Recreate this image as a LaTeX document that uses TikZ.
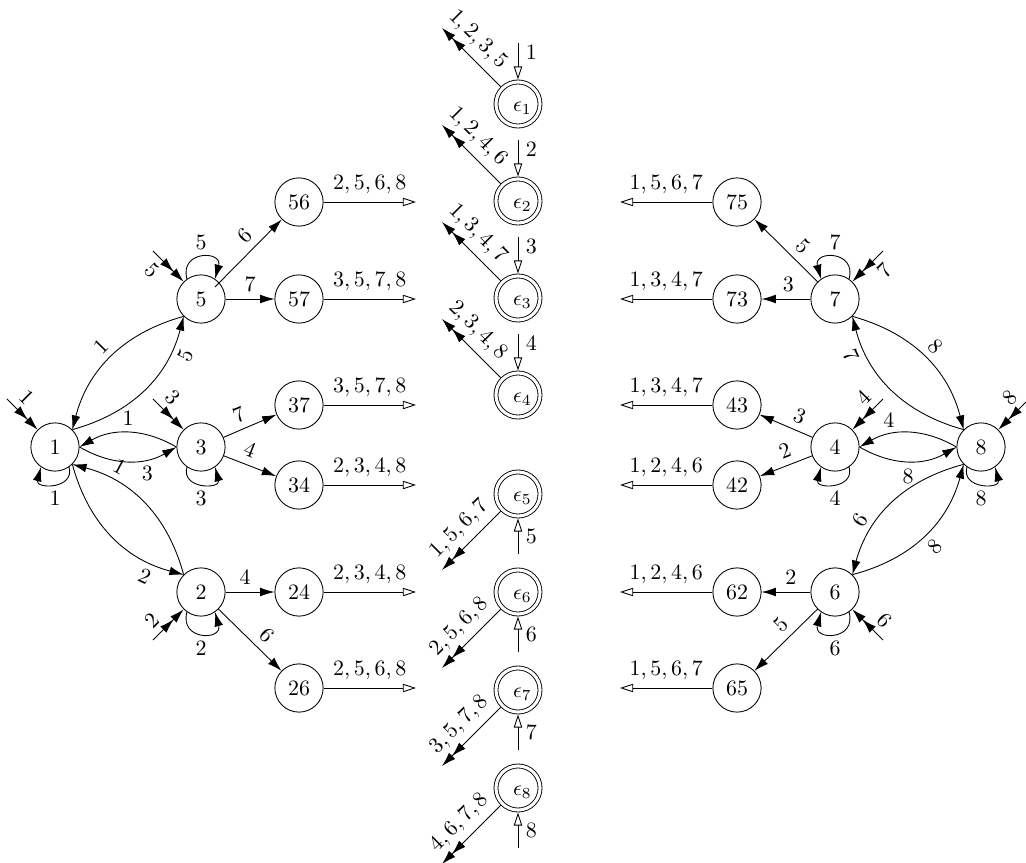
\documentclass[tikz,border=0pt]{standalone}
\usetikzlibrary{arrows.meta,calc}
\begin{document}
\begin{tikzpicture}[x=0.456pt,y=-0.456pt,
  st/.style={circle,draw,minimum size=22pt,inner sep=0pt},
  acc/.style={circle,draw,double,double distance=1.4pt,minimum size=20.1pt,inner sep=0pt,outer sep=1.1pt},
  etx/.style={label={[xshift=2pt,yshift=-1.8pt]center:$\epsilon_{#1}$}},
  tr/.style={-{Latex[length=6.5pt,width=4pt]}},
  dtr/.style={-{Latex[length=6.5pt,width=4pt]Latex[length=6.5pt,width=4pt]}},
  otr/.style={-{Triangle[open,length=6pt,width=3.8pt]}},
  lps/.style={tr,distance=10.5pt},
  lpb/.style={tr,distance=13.5pt},
  bnd/.style={tr,bend right=30},
]
\useasboundingbox (0,0) rectangle (1026,863);

% ---------- nodes ----------
\node[st] (n1) at (55,447) {$1$};
\node[st] (n5) at (201,299) {$5$};
\node[st] (n3) at (201,447) {$3$};
\node[st] (n2) at (201,592) {$2$};
\node[st] (n56) at (299,202) {$56$};
\node[st] (n57) at (299,299) {$57$};
\node[st] (n37) at (299,405) {$37$};
\node[st] (n34) at (299,485) {$34$};
\node[st] (n24) at (299,592) {$24$};
\node[st] (n26) at (299,688) {$26$};

\node[acc,etx=1] (e1) at (518,104) {};
\node[acc,etx=2] (e2) at (518,201) {};
\node[acc,etx=3] (e3) at (518,298) {};
\node[acc,etx=4] (e4) at (518,395) {};
\node[acc,etx=5] (e5) at (518,494) {};
\node[acc,etx=6] (e6) at (518,592) {};
\node[acc,etx=7] (e7) at (518,690) {};
\node[acc,etx=8] (e8) at (518,788) {};

\node[st] (n75) at (737,202) {$75$};
\node[st] (n73) at (737,299) {$73$};
\node[st] (n43) at (737,405) {$43$};
\node[st] (n42) at (737,485) {$42$};
\node[st] (n62) at (737,592) {$62$};
\node[st] (n65) at (737,688) {$65$};
\node[st] (n7) at (835,299) {$7$};
\node[st] (n4) at (835,447) {$4$};
\node[st] (n8) at (981,447) {$8$};
\node[st] (n6) at (835,592) {$6$};

% ---------- free ends ----------
\coordinate (i1) at ($(n1)+(135:31pt)$);
\coordinate (i5) at ($(n5)+(135:31pt)$);
\coordinate (i3) at ($(n3)+(135:31pt)$);
\coordinate (i2) at ($(n2)+(225:31pt)$);
\coordinate (i7) at ($(n7)+(45:31pt)$);
\coordinate (i4) at ($(n4)+(45:31pt)$);
\coordinate (i8) at ($(n8)+(45:31pt)$);
\coordinate (i6) at ($(n6)+(-45:31pt)$);
\coordinate (s5) at (215,287);

\foreach \n/\y in {56/202,57/299,37/405,34/485,24/592,26/688}{\coordinate (o\n) at (416,\y);}
\foreach \n/\y in {75/202,73/299,43/405,42/485,62/592,65/688}{\coordinate (o\n) at (620,\y);}
\foreach \k/\y in {1/104,2/201,3/298,4/395}{
  \coordinate (ei\k) at (518,\y-61);
  \coordinate (eo\k) at (518-76,\y-76);}
\foreach \k/\y in {5/494,6/592,7/690,8/788}{
  \coordinate (ei\k) at (518,\y+60);
  \coordinate (eo\k) at (518-76,\y+76);}

% ---------- initial arrows ----------
\draw[dtr] (i1) -- node[sloped,above,pos=0.3]{$1$} (n1);
\draw[dtr] (i5) -- node[sloped,below,pos=0.3]{$5$} (n5);
\draw[dtr] (i3) -- node[sloped,above,pos=0.3]{$3$} (n3);
\draw[dtr] (i2) -- node[sloped,above,pos=0.3]{$2$} (n2);
\draw[dtr] (i7) -- node[sloped,below,pos=0.3]{$7$} (n7);
\draw[dtr] (i4) -- node[sloped,above,pos=0.3]{$4$} (n4);
\draw[dtr] (i8) -- node[sloped,above,pos=0.3]{$8$} (n8);
\draw[dtr] (i6) -- node[sloped,above,pos=0.3]{$6$} (n6);

% ---------- loops ----------
\draw[lps] (n1.-55) to[out=-75,in=-105] node[below]{$1$} (n1.-125);
\draw[lps] (n3.-125) to[out=-105,in=-75] node[below]{$3$} (n3.-55);
\draw[lpb] (n2.-125) to[out=-105,in=-75] node[below]{$2$} (n2.-55);
\draw[lpb] (n5.125) to[out=105,in=75] node[above]{$5$} (n5.55);
\draw[lpb] (n7.55) to[out=75,in=105] node[above]{$7$} (n7.125);
\draw[lps] (n4.-55) to[out=-75,in=-105] node[below]{$4$} (n4.-125);
\draw[lps] (n8.-125) to[out=-105,in=-75] node[below]{$8$} (n8.-55);
\draw[lpb] (n6.-55) to[out=-75,in=-105] node[below]{$6$} (n6.-125);

% ---------- left edges ----------
\draw[bnd] (n5.225) to node[sloped,above]{$1$} (n1.45);
\draw[bnd] (n1.45) to node[sloped,below,pos=0.8]{$5$} (n5.225);
\draw[bnd] (n3.west) to node[above]{$1$} (n1.east);
\draw[bnd] (n1.east) to node[below,pos=0.7]{$3$} (n3.west);
\draw[bnd] (n1.-45) to node[sloped,below,pos=0.8]{$2$} (n2.135);
\draw[bnd] (n2.135) to node[sloped,above,pos=0.75]{$1$} (n1.-45);

\draw[tr] (s5) -- node[sloped,above,pos=0.6]{$6$} (n56);
\draw[tr] (n5) -- node[above]{$7$} (n57);
\draw[tr] (n3) -- node[sloped,above,pos=0.4]{$7$} (n37);
\draw[tr] (n3) -- node[sloped,above,pos=0.4]{$4$} (n34);
\draw[tr] (n2) -- node[above,pos=0.4]{$4$} (n24);
\draw[tr] (n2) -- node[sloped,above,pos=0.6]{$6$} (n26);

\draw[otr] (n56) -- node[above]{$2,5,6,8$} (o56);
\draw[otr] (n57) -- node[above]{$3,5,7,8$} (o57);
\draw[otr] (n37) -- node[above]{$3,5,7,8$} (o37);
\draw[otr] (n34) -- node[above]{$2,3,4,8$} (o34);
\draw[otr] (n24) -- node[above]{$2,3,4,8$} (o24);
\draw[otr] (n26) -- node[above]{$2,5,6,8$} (o26);

% ---------- right edges ----------
\draw[tr] (n7) -- node[sloped,above,pos=0.4]{$5$} (n75);
\draw[tr] (n7) -- node[above,pos=0.45]{$3$} (n73);
\draw[tr] (n4) -- node[sloped,above,pos=0.35]{$3$} (n43);
\draw[tr] (n4) -- node[sloped,above,pos=0.42]{$2$} (n42);
\draw[tr] (n6) -- node[above,pos=0.4]{$2$} (n62);
\draw[tr] (n6) -- node[sloped,above,pos=0.42]{$5$} (n65);

\draw[tr,bend left=30] (n8.135) to node[sloped,below,pos=0.8]{$7$} (n7.-45);
\draw[tr,bend left=30] (n7.-45) to node[sloped,above]{$8$} (n8.135);
\draw[bnd] (n8.west) to node[above,pos=0.7]{$4$} (n4.east);
\draw[bnd] (n4.east) to node[below]{$8$} (n8.west);
\draw[bnd] (n8.225) to node[sloped,above,pos=0.7]{$6$} (n6.45);
\draw[bnd] (n6.45) to node[sloped,below]{$8$} (n8.225);

\draw[otr] (n75) -- node[above]{$1,5,6,7$} (o75);
\draw[otr] (n73) -- node[above]{$1,3,4,7$} (o73);
\draw[otr] (n43) -- node[above]{$1,3,4,7$} (o43);
\draw[otr] (n42) -- node[above]{$1,2,4,6$} (o42);
\draw[otr] (n62) -- node[above]{$1,2,4,6$} (o62);
\draw[otr] (n65) -- node[above]{$1,5,6,7$} (o65);

% ---------- epsilon states ----------
\draw[otr] (ei1) -- node[right,pos=0.25]{$1$} (e1);
\draw[otr] (ei2) -- node[right,pos=0.25]{$2$} (e2);
\draw[otr] (ei3) -- node[right,pos=0.25]{$3$} (e3);
\draw[otr] (ei4) -- node[right,pos=0.25]{$4$} (e4);
\draw[otr] (ei5) -- node[right]{$5$} (e5);
\draw[otr] (ei6) -- node[right]{$6$} (e6);
\draw[otr] (ei7) -- node[right]{$7$} (e7);
\draw[otr] (ei8) -- node[right]{$8$} (e8);

\draw[dtr] (e1) -- node[sloped,above,pos=0.6]{$1,2,3,5$} (eo1);
\draw[dtr] (e2) -- node[sloped,above,pos=0.6]{$1,2,4,6$} (eo2);
\draw[dtr] (e3) -- node[sloped,above,pos=0.6]{$1,3,4,7$} (eo3);
\draw[dtr] (e4) -- node[sloped,above,pos=0.6]{$2,3,4,8$} (eo4);
\draw[dtr] (e5) -- node[sloped,above,pos=0.5]{$1,5,6,7$} (eo5);
\draw[dtr] (e6) -- node[sloped,above,pos=0.5]{$2,5,6,8$} (eo6);
\draw[dtr] (e7) -- node[sloped,above,pos=0.5]{$3,5,7,8$} (eo7);
\draw[dtr] (e8) -- node[sloped,above,pos=0.5]{$4,6,7,8$} (eo8);
\end{tikzpicture}
\end{document}
